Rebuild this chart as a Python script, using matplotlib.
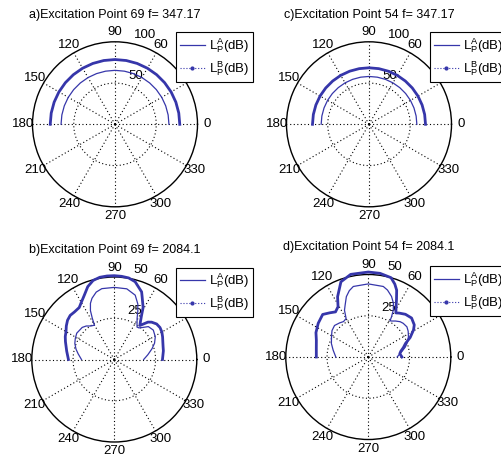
import numpy as np
import matplotlib.pyplot as plt
from matplotlib.lines import Line2D

plt.rcParams['font.family'] = ['Liberation Sans', 'DejaVu Sans']
plt.rcParams['mathtext.fontset'] = 'custom'
plt.rcParams['mathtext.rm'] = 'Liberation Sans'
plt.rcParams['mathtext.it'] = 'Liberation Sans:italic'

W, H = 502, 454
line_color = '#3636aa'

# --- data: sound pressure level (dB) vs. angle (deg) ---
# f = 347.17 Hz, both excitation points -> nearly constant directivity
ang_low = [0, 10, 20, 30, 40, 50, 60, 70, 80, 90, 100, 110, 120, 130, 140, 150, 160, 170, 180]
lpA_69_low = [65.4] * 19
lpB_69_low = [78.5] * 19
lpA_54_low = [58.0] * 19
lpB_54_low = [68.5] * 19

# f = 2084.1 Hz, excitation point 69
angA_69 = [0, 8, 16, 22, 29, 37, 44, 48, 52, 55, 58, 61, 64, 67, 72, 80, 90,
           100, 105, 110, 113, 116, 118, 120, 125, 130, 135, 145, 152, 158, 165, 171, 180]
lpA_69 = [17.8, 20.5, 23.8, 26.3, 28.4, 29.6, 28.7, 26.2, 24.3, 24.0, 26.0, 28.5, 32.5, 36.5, 41.0, 43.5, 43.7,
          43.6, 42.3, 39.5, 37.0, 33.0, 28.5, 24.0, 24.8, 26.5, 27.5, 27.8, 26.8, 25.8, 24.0, 22.2, 19.9]
angB_69 = [0, 10, 15, 20, 25, 30, 35, 40, 45, 48, 51, 53, 55, 58, 61, 63, 66, 68, 75, 80, 85, 90,
           95, 100, 105, 110, 115, 120, 124, 130, 135, 140, 145, 150, 155, 160, 170, 180]
lpB_69 = [29.2, 30.2, 30.6, 31.3, 32.3, 33.3, 33.8, 33.5, 32.0, 30.5, 27.5, 25.8, 27.5, 31.0, 36.0, 38.0, 41.5, 44.2, 48.8, 50.2, 50.6, 50.8,
          50.8, 50.6, 49.6, 47.0, 43.0, 40.0, 38.0, 37.6, 37.8, 37.0, 35.5, 33.8, 32.8, 31.5, 29.3, 27.8]

# f = 2084.1 Hz, excitation point 54
angA_54 = [0, 3, 9, 15, 21, 27, 33, 38, 44, 48, 53, 57, 59, 60, 62, 65, 69, 74, 78, 90,
           102, 106, 110, 114, 117, 120, 125, 130, 137, 144, 151, 160, 169, 180]
lpA_54 = [17.5, 18.3, 20.5, 23.2, 25.5, 27.3, 28.8, 29.7, 29.4, 28.8, 27.3, 26.0, 25.6, 28.2, 32.3, 36.0, 39.3, 42.2, 43.7, 44.3,
          43.7, 41.8, 38.9, 34.5, 31.8, 26.9, 26.2, 27.0, 28.0, 27.2, 25.5, 23.8, 21.7, 19.7]
angB_54 = [0, 6, 10, 15, 20, 25, 31, 35, 42, 49, 55, 58, 61, 64, 67, 70, 74, 82, 90,
           102, 110, 117, 121, 126, 131, 137, 146, 155, 162, 170, 180]
lpB_54 = [20.4, 19.2, 20.0, 22.0, 24.0, 28.0, 32.0, 34.0, 35.3, 34.3, 32.5, 31.5, 34.8, 39.0, 44.0, 47.0, 50.0, 51.2, 51.5,
          51.2, 48.5, 41.0, 35.6, 33.8, 35.5, 37.8, 36.6, 35.0, 33.1, 32.0, 31.5]

titles = ['a)Excitation Point 69 f= 347.17', 'c)Excitation Point 54 f= 347.17',
          'b)Excitation Point 69 f= 2084.1', 'd)Excitation Point 54 f= 2084.1']

fig = plt.figure(figsize=(W / 100, H / 100), dpi=100)
R = 82.5  # outer circle radius in pixels


def polar_panel(cx, cy, title, ty, rmax, ring, curveA, curveB, leg_xy):
    ax = fig.add_axes([(cx - R) / W, 1 - (cy + R) / H, 2 * R / W, 2 * R / H], projection='polar')
    ax.set_ylim(0, rmax)
    ax.set_xticks(np.deg2rad(np.arange(0, 360, 30)))
    ax.set_xticklabels([])
    ax.set_yticks([ring])
    ax.set_yticklabels([])
    ax.grid(True, color='k', linestyle=(0, (1, 2.2)), linewidth=0.8)
    ax.spines['polar'].set_color('k')
    ax.spines['polar'].set_linewidth(1.0)

    for d in range(0, 360, 30):
        ax.text(np.deg2rad(d), 1.115 * rmax, str(d), ha='center', va='center',
                fontsize=9.5, clip_on=False)
    for v in (ring, rmax):
        ax.annotate(str(v), xy=(np.deg2rad(82), v + rmax / 40), xytext=(5, 2),
                    textcoords='offset points', ha='left', va='baseline',
                    fontsize=9.5, annotation_clip=False)

    thA, rA = curveA
    thB, rB = curveB
    ax.plot(np.deg2rad(thA), rA, color=line_color, lw=0.9, clip_on=False, zorder=3)
    ax.plot(np.deg2rad(thB), rB, color=line_color, lw=2.0, clip_on=False, zorder=3)

    handles = [Line2D([], [], color=line_color, lw=0.9),
               Line2D([], [], color=line_color, lw=0.8, ls=':', marker='.', markersize=4)]
    labels = [r'$\mathregular{L_P^A}$(dB)', r'$\mathregular{L_P^B}$(dB)']
    leg = ax.legend(handles, labels, loc='upper left',
                    bbox_to_anchor=(leg_xy[0] / W, 1 - leg_xy[1] / H),
                    bbox_transform=fig.transFigure, fontsize=9.5, frameon=True,
                    fancybox=False, framealpha=1, edgecolor='k',
                    handlelength=1.9, handletextpad=0.3, borderpad=0.3,
                    labelspacing=0.35, borderaxespad=0)
    leg.get_frame().set_linewidth(0.8)

    fig.text(cx / W, 1 - ty / H, title, ha='center', va='center', fontsize=9)
    return ax


polar_panel(115, 124.3, titles[0], 15, 100, 50,
            (ang_low, lpA_69_low), (ang_low, lpB_69_low), (176, 32))
polar_panel(369, 124.3, titles[1], 15, 100, 50,
            (ang_low, lpA_54_low), (ang_low, lpB_54_low), (430, 32))
polar_panel(114.3, 359.5, titles[2], 250, 50, 25,
            (angA_69, lpA_69), (angB_69, lpB_69), (176, 267.5))
polar_panel(368.3, 357, titles[3], 247, 50, 25,
            (angA_54, lpA_54), (angB_54, lpB_54), (430, 266))

fig.savefig('out.png', dpi=100)
